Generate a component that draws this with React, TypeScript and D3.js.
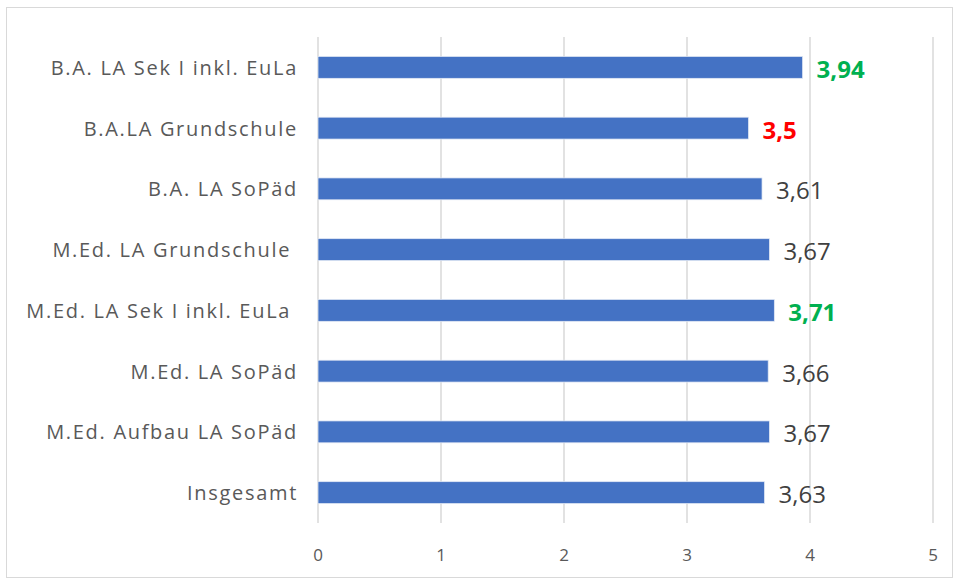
import React from "react";
import * as d3 from "d3";

const categories = [
  "B.A. LA Sek I inkl. EuLa",
  "B.A.LA Grundschule",
  "B.A. LA SoPäd",
  "M.Ed. LA Grundschule ",
  "M.Ed. LA Sek I inkl. EuLa ",
  "M.Ed. LA SoPäd",
  "M.Ed. Aufbau LA SoPäd",
  "Insgesamt",
];
const values = [3.94, 3.5, 3.61, 3.67, 3.71, 3.66, 3.67, 3.63];
const valueLabels = ["3,94", "3,5", "3,61", "3,67", "3,71", "3,66", "3,67", "3,63"];
const labelTone = ["good", "bad", "", "", "good", "", "", ""];
const xTicks = [0, 1, 2, 3, 4, 5];

const W = 953;
const H = 581;

export default function App() {
  const x = d3.scaleLinear().domain([0, 5]).range([318, 933]);
  const y = d3.scaleBand<string>().domain(categories).range([37, 523]).paddingInner(0.64).paddingOuter(0.32);
  const toneColor = (t: string) => (t === "good" ? "#00B050" : t === "bad" ? "#FF0000" : "#404040");

  return (
    <div style={{ position: "absolute", left: 0, top: 0 }}>
      <svg width={W} height={H} style={{ display: "block" }}>
        <rect x={0} y={0} width={W} height={H} fill="#ffffff" />
        <rect x={6.5} y={7.5} width={W - 7} height={H - 11} fill="none" stroke="#D9D9D9" strokeWidth={1} />
        {xTicks.map((t) => (
          <line key={"g" + t} x1={x(t)} x2={x(t)} y1={37} y2={523} stroke="#D9D9D9" strokeWidth={1.5} />
        ))}
        {categories.map((c, i) => (
          <rect
            key={"b" + i}
            x={x(0)}
            y={y(c)!}
            width={x(values[i]) - x(0)}
            height={y.bandwidth()}
            fill="#4472C4"
            stroke="#E2E9F5"
            strokeWidth={0.75}
          />
        ))}
        {categories.map((c, i) => (
          <text
            key={"c" + i}
            x={298}
            y={y(c)! + y.bandwidth() / 2}
            textAnchor="end"
            dominantBaseline="central"
            fontFamily="'Open Sans', sans-serif"
            fontSize={20}
            letterSpacing={1.7}
            fill="#595959"
            style={{ whiteSpace: "pre" }}
          >
            {c}
          </text>
        ))}
        {categories.map((c, i) => (
          <text
            key={"v" + i}
            x={x(values[i]) + 14}
            y={y(c)! + y.bandwidth() / 2 + 1}
            textAnchor="start"
            dominantBaseline="central"
            fontFamily="'Open Sans', sans-serif"
            fontSize={24}
            fontWeight={labelTone[i] ? 700 : 400}
            fill={toneColor(labelTone[i])}
          >
            {valueLabels[i]}
          </text>
        ))}
        {xTicks.map((t) => (
          <text
            key={"t" + t}
            x={x(t)}
            y={554}
            textAnchor="middle"
            dominantBaseline="central"
            fontFamily="'Open Sans', sans-serif"
            fontSize={17}
            fill="#595959"
          >
            {t}
          </text>
        ))}
      </svg>
    </div>
  );
}
